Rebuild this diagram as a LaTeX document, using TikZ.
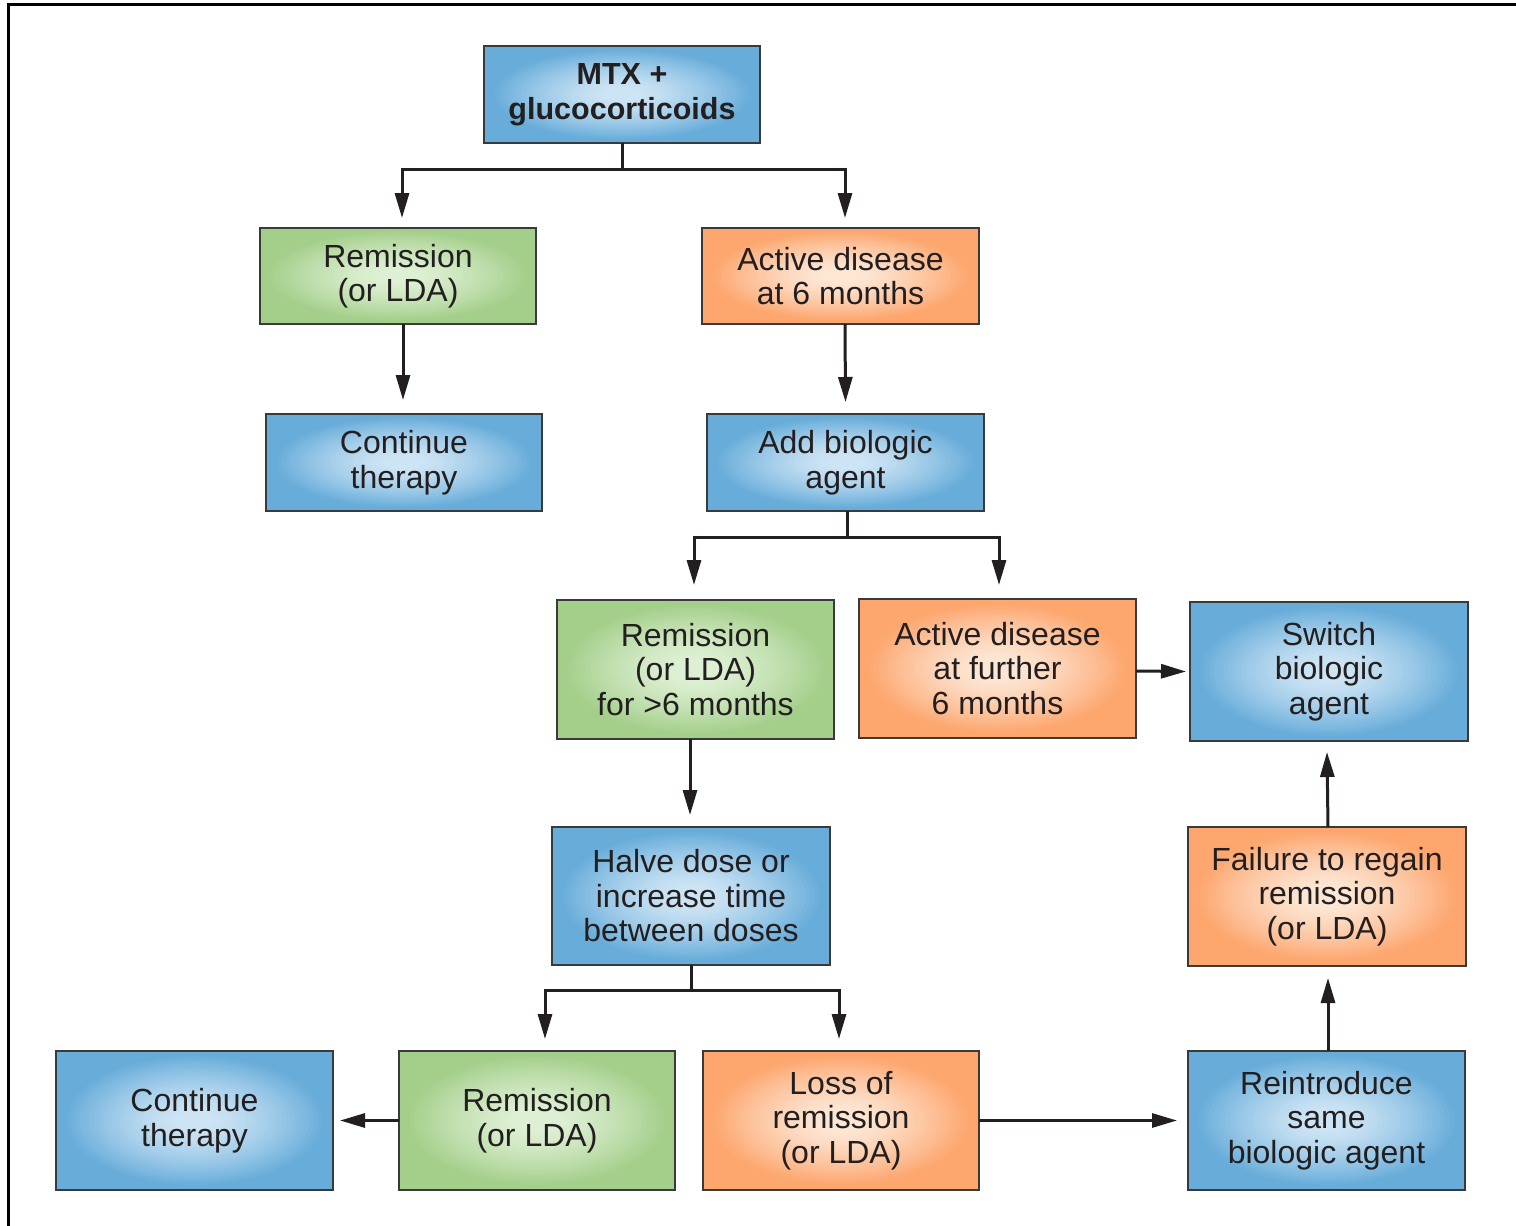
\documentclass[tikz,border=0pt]{standalone}
\usepackage{fontspec}
\setmainfont{Liberation Sans}
\usetikzlibrary{arrows.meta}
\definecolor{bluein}{HTML}{CCE4F4}
\definecolor{blueout}{HTML}{68ADDA}
\definecolor{greenin}{HTML}{DEF0D3}
\definecolor{greenout}{HTML}{A4CF8B}
\definecolor{orangein}{HTML}{FDE6D4}
\definecolor{orangeout}{HTML}{FDA66E}
\definecolor{txt}{HTML}{231F20}
\definecolor{edge}{HTML}{3A3A3C}
\newcommand\glowfill[2]{%
  \pgfpointdiff{\pgfpointanchor{path picture bounding box}{south west}}{\pgfpointanchor{path picture bounding box}{north east}}%
  \pgfgetlastxy{\glowW}{\glowH}%
  \fill[#2] (path picture bounding box.south west) rectangle (path picture bounding box.north east);
  \foreach \k in {0,...,31}{%
    \pgfmathsetmacro\glowf{1.02-\k/31}%
    \pgfmathsetmacro\glowx{max(0.001,min(1,(\glowf-0.15)/0.8))}%
    \pgfmathsetmacro\glowp{100*\glowx^1.3}%
    \fill[#2!\glowp!#1] (path picture bounding box.center) ellipse [x radius=\glowf*\glowW/2, y radius=\glowf*\glowH/2];
  }%
}
\tikzset{
  box/.style={draw=edge, line width=1.4pt, inner sep=0pt, outer sep=0pt, align=center,
    text=txt, font=\fontsize{32}{34.5}\selectfont},
  glow/.style 2 args={path picture={\glowfill{#1}{#2}}},
  bbox/.style={box, glow={bluein}{blueout}},
  gbox/.style={box, glow={greenin}{greenout}},
  obox/.style={box, glow={orangein}{orangeout}},
  conn/.style={draw=txt, line width=3pt},
  arr/.style={conn, -{Triangle[length=25pt,width=14pt]}},
  sz/.style 2 args={minimum width=#1pt, minimum height=#2pt}
}
\begin{document}
\begin{tikzpicture}[x=1pt,y=-1pt]
\useasboundingbox (0,0) rectangle (1516,1226);
\fill[white] (0,0) rectangle (1516,1226);
\draw[line width=3pt, black] (8,1226) -- (8,4) -- (1516,4);

\node[bbox, sz={276}{97}, font=\fontsize{30.5}{35}\selectfont\bfseries] (mtx) at (622,94.5) {MTX +\\glucocorticoids};
\node[gbox, sz={276}{96}] (rem1) at (398,276) {Remission\\(or LDA)};
\node[obox, sz={277}{96}] (act1) at (840.5,276) {Active disease\\at 6 months};
\node[bbox, sz={276}{97}] (cont1) at (404,462.5) {Continue\\therapy};
\node[bbox, sz={277}{97}] (add) at (845.5,462.5) {Add biologic\\agent};
\node[gbox, sz={277}{139}] (rem2) at (695.5,669.5) {Remission\\(or LDA)\\for >6 months};
\node[obox, sz={277}{139}] (act2) at (997.5,668.5) {Active disease\\at further\\6 months};
\node[bbox, sz={278}{139}] (switch) at (1329,671.5) {Switch\\biologic\\agent};
\node[bbox, sz={278}{138}] (halve) at (691,896) {Halve dose or\\increase time\\between doses};
\node[obox, sz={278}{139}] (fail) at (1327,896.5) {Failure to regain\\remission\\(or LDA)};
\node[bbox, sz={277}{139}] (cont2) at (194.5,1120.5) {Continue\\therapy};
\node[gbox, sz={276}{139}] (rem3) at (537,1120.5) {Remission\\(or LDA)};
\node[obox, sz={276}{139}] (loss) at (841,1120.5) {Loss of\\remission\\(or LDA)};
\node[bbox, sz={277}{139}] (reint) at (1326.5,1120.5) {Reintroduce\\same\\biologic agent};

% MTX split
\draw[conn] (mtx.south) -- ++(0,26) coordinate (j1);
\draw[arr] (j1) -| ([xshift=4pt,yshift=10pt]rem1.north);
\draw[arr] (j1) -| ([xshift=4.5pt,yshift=10pt]act1.north);
\draw[arr] ([xshift=5pt]rem1.south) -- ([xshift=-1pt,yshift=14pt]cont1.north);
\draw[arr] ([xshift=4.5pt]act1.south) -- ([yshift=12pt]add.north);
% Add split
\draw[conn] ([xshift=1.5pt]add.south) -- ++(0,26) coordinate (j2);
\draw[arr] (j2) -| ([xshift=-1.5pt,yshift=15pt]rem2.north);
\draw[arr] (j2) -| ([xshift=1.5pt,yshift=14pt]act2.north);
\draw[arr] ([xshift=-5.5pt]rem2.south) -- ([xshift=-1pt,yshift=12pt]halve.north);
\draw[arr] ([yshift=-2.5pt]act2.east) -- ([xshift=-4pt]switch.west);
% Halve split
\draw[conn] (halve.south) -- ++(0,25) coordinate (j3);
\draw[arr] (j3) -| ([xshift=8pt,yshift=12pt]rem3.north);
\draw[arr] (j3) -| ([xshift=-2pt,yshift=12pt]loss.north);
\draw[arr] (rem3.west) -- ([xshift=7pt]cont2.east);
\draw[arr] (loss.east) -- ([xshift=-11pt]reint.east -| reint.west);
\draw[arr] ([xshift=1pt]fail.north) -- ([yshift=-11pt]switch.south -| fail.north);
\draw[arr] ([xshift=1.5pt]reint.north) -- ([xshift=1.5pt,yshift=-12pt]fail.south -| reint.north);
\end{tikzpicture}
\end{document}
